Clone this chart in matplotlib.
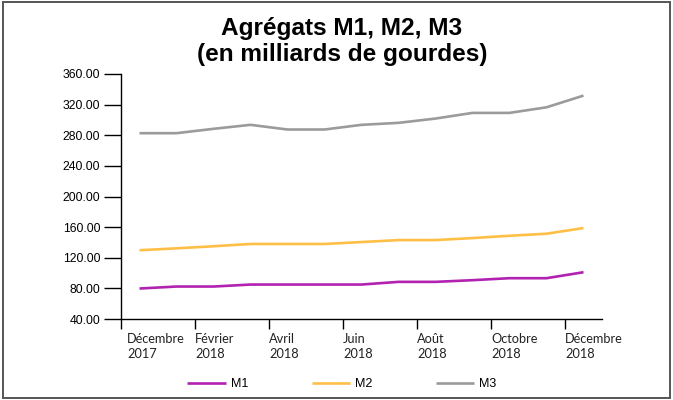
import matplotlib
matplotlib.use("Agg")
import matplotlib.pyplot as plt
import matplotlib.transforms as mtransforms
from matplotlib.patches import Rectangle

months = ["Déc 2017", "Jan 2018", "Fév 2018", "Mar 2018", "Avr 2018", "Mai 2018",
          "Jun 2018", "Jul 2018", "Aoû 2018", "Sep 2018", "Oct 2018", "Nov 2018", "Déc 2018"]
m1 = [79.8, 82.4, 82.4, 85.0, 85.0, 85.0, 85.0, 88.5, 88.5, 90.7, 93.3, 93.3, 101.1]
m2 = [129.8, 132.3, 135.0, 138.0, 138.0, 138.0, 140.5, 143.1, 143.1, 145.7, 148.7, 151.4, 158.8]
m3 = [282.7, 282.7, 288.4, 293.6, 287.5, 287.5, 293.6, 296.2, 301.8, 309.2, 309.2, 316.5, 331.8]
tick_labels = ["Décembre\n2017", "Février\n2018", "Avril\n2018", "Juin\n2018",
               "Août\n2018", "Octobre\n2018", "Décembre\n2018"]
y_ticks = [40, 80, 120, 160, 200, 240, 280, 320, 360]

fig = plt.figure(figsize=(6.73, 4.0), dpi=100)
ax = fig.add_axes([0.1798, 0.2025, 0.8945 - 0.1798, 0.815 - 0.2025])

x = list(range(len(months)))
ax.plot(x, m1, color="#B222B0", lw=1.9, label="M1", solid_capstyle="butt")
ax.plot(x, m2, color="#FFBF47", lw=1.9, label="M2", solid_capstyle="butt")
ax.plot(x, m3, color="#9B9B9B", lw=1.9, label="M3", solid_capstyle="butt")

ax.set_xlim(-0.5, len(months) - 0.5)
ax.set_ylim(40, 360)
ax.set_yticks(y_ticks)
ax.set_yticklabels([f"{v:.2f}" for v in y_ticks], family="Liberation Sans", fontsize=8.8)
tick_pos = [i - 0.5 for i in range(0, len(months), 2)]
ax.set_xticks(tick_pos)
ax.set_xticklabels(tick_labels, family="Lato", fontsize=9.2, ha="left",
                   linespacing=1.3, color="#222222")
ax.tick_params(axis="y", length=12, width=1, pad=3)
ax.tick_params(axis="x", length=7, width=1, pad=3)
first = ax.get_xticklabels()[0]
first.set_transform(first.get_transform() +
                    mtransforms.ScaledTranslation(6 / 100, 0, fig.dpi_scale_trans))

for s in ["top", "right"]:
    ax.spines[s].set_visible(False)
for s in ["left", "bottom"]:
    ax.spines[s].set_linewidth(1)
    ax.spines[s].set_color("black")

fig.text(0.508, 0.897, "Agrégats M1, M2, M3\n(en milliards de gourdes)", ha="center",
         va="center", family="Liberation Sans", fontweight="bold", fontsize=17.6,
         linespacing=1.15)

fig.legend(loc="center", bbox_to_anchor=(0.508, 0.04), ncol=3, frameon=False,
           prop={"family": "Liberation Sans", "size": 9}, handlelength=3.05,
           columnspacing=5.1, handletextpad=0.4)

fig.add_artist(Rectangle((0.004, 0.006), 0.992, 0.988, transform=fig.transFigure,
                         fill=False, edgecolor="#555555", lw=1.4))

fig.savefig("out.png", dpi=100)
